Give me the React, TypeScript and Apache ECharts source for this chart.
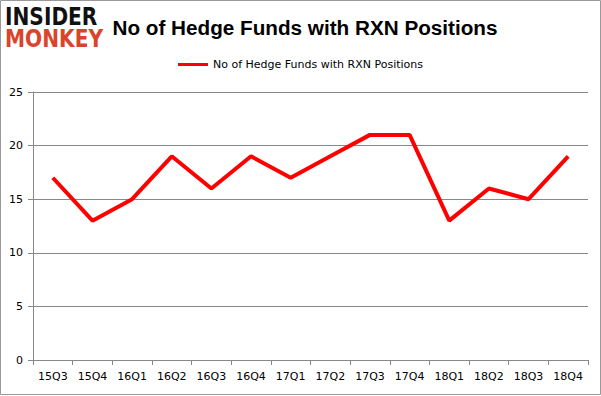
import React, { useEffect, useRef } from "react";
import * as echarts from "echarts";

const categories = ["15Q3", "15Q4", "16Q1", "16Q2", "16Q3", "16Q4", "17Q1", "17Q2", "17Q3", "17Q4", "18Q1", "18Q2", "18Q3", "18Q4"];
const values = [17, 13, 15, 19, 16, 19, 17, 19, 21, 21, 13, 16, 15, 19];
const seriesName = "No of Hedge Funds with RXN Positions";
const titleText = "No of Hedge Funds with RXN Positions";

export default function App() {
  const ref = useRef<HTMLDivElement>(null);
  useEffect(() => {
    if (!ref.current) return;
    const chart = echarts.init(ref.current, null, { renderer: "svg" });
    chart.setOption({
      animation: false,
      backgroundColor: "#ffffff",
      title: {
        text: titleText,
        left: 300,
        top: 12,
        textAlign: "center",
        textStyle: { fontFamily: "Liberation Sans, Arial", fontSize: 20.7, fontWeight: "bold", color: "#000" },
      },
      legend: {
        top: 54,
        left: "center",
        itemWidth: 30,
        itemHeight: 3,
        icon: "rect",
        textStyle: { fontFamily: "DejaVu Sans, Verdana", fontSize: 11, color: "#000" },
        data: [seriesName],
      },
      grid: { left: 33, right: 13, top: 92, bottom: 36, containLabel: false },
      xAxis: {
        type: "category",
        data: categories,
        boundaryGap: true,
        axisLine: { lineStyle: { color: "#888" } },
        axisTick: { show: true, length: 5, lineStyle: { color: "#888" }, alignWithLabel: false },
        axisLabel: { fontFamily: "DejaVu Sans, Verdana", fontSize: 11, color: "#000", margin: 11, interval: 0 },
      },
      yAxis: {
        type: "value",
        min: 0,
        max: 25,
        interval: 5,
        axisLine: { show: true, lineStyle: { color: "#888" } },
        axisTick: { show: true, length: 5, lineStyle: { color: "#888" } },
        axisLabel: { fontFamily: "DejaVu Sans, Verdana", fontSize: 11, color: "#000", margin: 10 },
        splitLine: { lineStyle: { color: "#888", width: 1 } },
      },
      series: [
        {
          name: seriesName,
          type: "line",
          data: values,
          symbol: "none",
          lineStyle: { color: "#ff0000", width: 4 },
          itemStyle: { color: "#ff0000" },
        },
      ],
      graphic: [
        {
          type: "rect",
          shape: { x: 0.5, y: 0.5, width: 600, height: 394 },
          style: { fill: "none", stroke: "#999", lineWidth: 1 },
          silent: true,
        },
        {
          type: "text",
          x: 5,
          y: 4,
          scaleX: 0.84,
          style: { text: "INSIDER", fontFamily: "DejaVu Sans", fontWeight: "bold", fontSize: 24, fill: "#111" },
        },
        {
          type: "text",
          x: 5,
          y: 26,
          scaleX: 0.84,
          style: { text: "MONKEY", fontFamily: "DejaVu Sans", fontWeight: "bold", fontSize: 24, fill: "#d9442b" },
        },
      ],
    });
    return () => chart.dispose();
  }, []);
  return <div ref={ref} style={{ width: 601, height: 396, position: "absolute", left: 0, top: 0 }} />;
}
